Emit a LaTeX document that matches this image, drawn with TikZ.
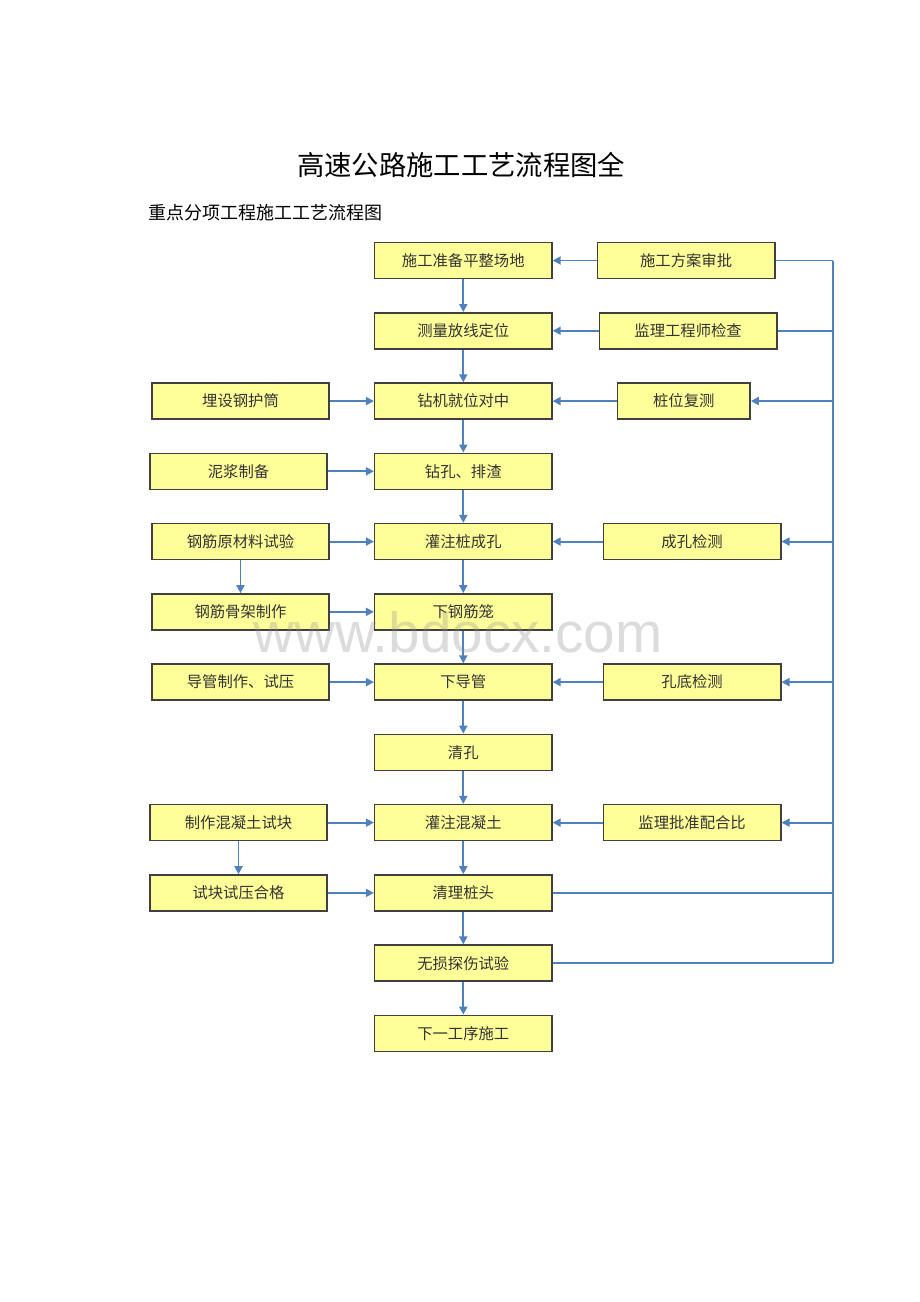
\documentclass[tikz,border=0pt]{standalone}
\usepackage{fontspec}
\setmainfont{Noto Sans CJK SC}
\newfontfamily\markfont{Liberation Sans}
\usetikzlibrary{positioning,arrows.meta}
\definecolor{boxfill}{HTML}{FFFF99}
\definecolor{boxline}{HTML}{404040}
\definecolor{flowblue}{HTML}{4F81BD}
\definecolor{textgray}{HTML}{333333}

\begin{document}
\begin{tikzpicture}[
			x=0.75pt, y=-0.75pt,
			>={Triangle[length=6pt,width=6pt]},
			proc/.style={
				draw=boxline,
				line width=1.1pt,
				fill=boxfill,
				minimum width=133pt,
				minimum height=27pt,
				inner sep=0pt,
				text=textgray,
				font=\fontsize{11.5}{14}\selectfont
			},
			flow/.style={->, draw=flowblue, line width=1.4pt},
			link/.style={draw=flowblue, line width=1.4pt}
			]
			
			\fill[white] (0,0) rectangle (920,1302);
			\useasboundingbox (0,0) rectangle (920,1302);
			
			%%%%%%%%%%%%%%%%%%%%%%%%%%%%%%%%%%%%%%%%%%%%%%%%%%%%%%%%%%%%
			% Headings
			%%%%%%%%%%%%%%%%%%%%%%%%%%%%%%%%%%%%%%%%%%%%%%%%%%%%%%%%%%%%
			
			\node (title) at (461,165)
			{\fontsize{20.5}{24}\selectfont 高速公路施工工艺流程图全};
			
			\node (subtitle) [anchor=west, inner sep=0pt] at (148,213)
			{\fontsize{13.5}{16}\selectfont 重点分项工程施工工艺流程图};
			
			%%%%%%%%%%%%%%%%%%%%%%%%%%%%%%%%%%%%%%%%%%%%%%%%%%%%%%%%%%%%
			% Main Process
			%%%%%%%%%%%%%%%%%%%%%%%%%%%%%%%%%%%%%%%%%%%%%%%%%%%%%%%%%%%%
			
			\node[proc] (prep) at (463.3,260.5) {施工准备平整场地};
			
			\node[proc] (survey) [below=24.6pt of prep] {测量放线定位};
			
			\node[proc] (align) [below=24.6pt of survey] {钻机就位对中};
			
			\node[proc] (drill) [below=24.6pt of align] {钻孔、排渣};
			
			\node[proc] (hole) [below=24.6pt of drill] {灌注桩成孔};
			
			\node[proc] (cage) [below=24.6pt of hole] {下钢筋笼};
			
			\node[proc] (tube) [below=24.6pt of cage] {下导管};
			
			\node[proc] (clean) [below=24.6pt of tube] {清孔};
			
			\node[proc] (pour) [below=24.6pt of clean] {灌注混凝土};
			
			\node[proc] (head) [below=24.6pt of pour] {清理桩头};
			
			\node[proc] (ndt) [below=24.6pt of head] {无损探伤试验};
			
			\node[proc] (next) [below=24.6pt of ndt] {下一工序施工};
			
			%%%%%%%%%%%%%%%%%%%%%%%%%%%%%%%%%%%%%%%%%%%%%%%%%%%%%%%%%%%%
			% Preparation Work
			%%%%%%%%%%%%%%%%%%%%%%%%%%%%%%%%%%%%%%%%%%%%%%%%%%%%%%%%%%%%
			
			\node[proc] (casing) [left=33pt of align] {埋设钢护筒};
			
			\node[proc] (slurry) [left=34.5pt of drill] {泥浆制备};
			
			\node[proc] (steel) [left=33pt of hole] {钢筋原材料试验};
			
			\node[proc] (frame) [left=33pt of cage] {钢筋骨架制作};
			
			\node[proc] (pipe) [left=33pt of tube] {导管制作、试压};
			
			\node[proc] (cube) [left=34.5pt of pour] {制作混凝土试块};
			
			\node[proc] (test) [left=34.5pt of head] {试块试压合格};
			
			%%%%%%%%%%%%%%%%%%%%%%%%%%%%%%%%%%%%%%%%%%%%%%%%%%%%%%%%%%%%
			% Inspection
			%%%%%%%%%%%%%%%%%%%%%%%%%%%%%%%%%%%%%%%%%%%%%%%%%%%%%%%%%%%%
			
			\node[proc] (plan) [right=33pt of prep] {施工方案审批};
			
			\node[proc] (check) [right=34.5pt of survey] {监理工程师检查};
			
			\node[proc, minimum width=99.5pt] (recheck) [right=48pt of align]
			{桩位复测};
			
			\node[proc] (holetest) [right=37.5pt of hole] {成孔检测};
			
			\node[proc] (bottom) [right=37.5pt of tube] {孔底检测};
			
			\node[proc] (mix) [right=37.5pt of pour] {监理批准配合比};
			
			\coordinate (bus) at ([xshift=210pt]prep.east);
			
			%%%%%%%%%%%%%%%%%%%%%%%%%%%%%%%%%%%%%%%%%%%%%%%%%%%%%%%%%%%%
			% Connections
			%%%%%%%%%%%%%%%%%%%%%%%%%%%%%%%%%%%%%%%%%%%%%%%%%%%%%%%%%%%%
			
			% Main
			
			\draw[flow] (prep) -- (survey);
			\draw[flow] (survey) -- (align);
			\draw[flow] (align) -- (drill);
			\draw[flow] (drill) -- (hole);
			\draw[flow] (hole) -- (cage);
			\draw[flow] (cage) -- (tube);
			\draw[flow] (tube) -- (clean);
			\draw[flow] (clean) -- (pour);
			\draw[flow] (pour) -- (head);
			\draw[flow] (head) -- (ndt);
			\draw[flow] (ndt) -- (next);
			
			% Left
			
			\draw[flow] (casing) -- (align);
			\draw[flow] (slurry) -- (drill);
			\draw[flow] (steel) -- (hole);
			\draw[flow] (steel) -- (frame);
			\draw[flow] (frame) -- (cage);
			\draw[flow] (pipe) -- (tube);
			\draw[flow] (cube) -- (pour);
			\draw[flow] (cube) -- (test);
			\draw[flow] (test) -- (head);
			
			% Right
			
			\draw[flow] (plan) -- (prep);
			\draw[flow] (check) -- (survey);
			\draw[flow] (recheck) -- (align);
			\draw[flow] (holetest) -- (hole);
			\draw[flow] (bottom) -- (tube);
			\draw[flow] (mix) -- (pour);
			
			% Feedback
			
			\draw[link] (bus) -- (bus |- ndt.east);
			\draw[link] (plan.east) -- (bus);
			\draw[link] (check.east) -- (check.east -| bus);
			\draw[flow] (recheck.east -| bus) -- (recheck);
			\draw[flow] (holetest.east -| bus) -- (holetest);
			\draw[flow] (bottom.east -| bus) -- (bottom);
			\draw[flow] (mix.east -| bus) -- (mix);
			\draw[link] (head.east) -- (head.east -| bus);
			\draw[link] (ndt.east) -- (ndt.east -| bus);
			
			% Watermark
			
			\node (mark) [text=black!45, text opacity=0.3] at (458,632)
			{\markfont\fontsize{42.5}{50}\selectfont www.bdocx.com};
			
		\end{tikzpicture}
\end{document}
